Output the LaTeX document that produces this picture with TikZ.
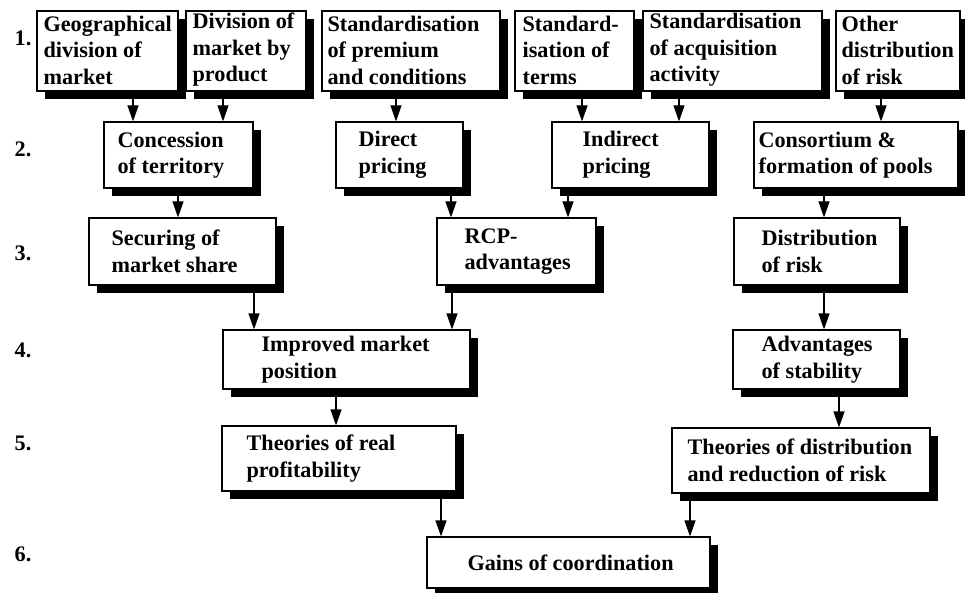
\documentclass[tikz,border=0pt]{standalone}
\usepackage{fontspec}
\setmainfont{Liberation Serif}
\usetikzlibrary{shadows,arrows.meta}
\begin{document}
\begin{tikzpicture}[x=1pt,y=-1pt]
\tikzset{
 box/.style={draw, fill=white, line width=1.2pt, inner sep=0pt,
   drop shadow={shadow xshift=8pt, shadow yshift=-8pt, fill=black, opacity=1}},
 txt/.style={align=left, inner sep=0pt, anchor=west, font=\fontsize{22.2}{26.5}\selectfont\bfseries},
 lab/.style={inner sep=0pt, font=\fontsize{22.2}{26.5}\selectfont\bfseries},
 arr/.style={line width=1.2pt, -{Triangle[length=16pt,width=11pt]}},
}
\useasboundingbox (0,0) rectangle (965,593);
% row labels
\node[lab] (l1) at (23,38) {1.};
\node[lab] (l2) at (23,149) {2.};
\node[lab] (l3) at (23,253) {3.};
\node[lab] (l4) at (23,350) {4.};
\node[lab] (l5) at (23,443) {5.};
\node[lab] (l6) at (23,554) {6.};
% row 1
\node[box, minimum width=141pt, minimum height=80pt] (geo) at (107.5,51) {};
\node[txt] (geo-t) at ([xshift=7pt,yshift=1pt]geo.west) {Geographical\\division of\\market};
\node[box, minimum width=120pt, minimum height=80pt] (div) at (246,51) {};
\node[txt] (div-t) at ([xshift=7pt,yshift=1pt]div.west) {Division of\\market by\\product};
\node[box, minimum width=178pt, minimum height=80pt] (prem) at (411,51) {};
\node[txt] (prem-t) at ([xshift=6pt,yshift=1pt]prem.west) {Standardisation\\of premium\\and conditions};
\node[box, minimum width=119pt, minimum height=80pt] (terms) at (574.5,51) {};
\node[txt] (terms-t) at ([xshift=8pt,yshift=1pt]terms.west) {Standard-\\isation of\\terms};
\node[box, minimum width=179pt, minimum height=80pt] (acq) at (732.5,51) {};
\node[txt] (acq-t) at ([xshift=7pt,yshift=1pt]acq.west) {Standardisation\\of acquisition\\activity};
\node[box, minimum width=124pt, minimum height=80pt] (other) at (898,51) {};
\node[txt] (other-t) at ([xshift=6pt,yshift=1pt]other.west) {Other\\distribution\\of risk};
% row 2
\node[box, minimum width=149pt, minimum height=66pt] (conc) at (178.5,155) {};
\node[txt] (conc-t) at ([xshift=14pt]conc.west) {Concession\\of territory};
\node[box, minimum width=127pt, minimum height=66pt] (direct) at (399.5,155) {};
\node[txt] (direct-t) at ([xshift=23pt]direct.west) {Direct\\pricing};
\node[box, minimum width=157pt, minimum height=66pt] (indirect) at (630.5,155) {};
\node[txt] (indirect-t) at ([xshift=31pt]indirect.west) {Indirect\\pricing};
\node[box, minimum width=204pt, minimum height=66pt] (consort) at (856,155) {};
\node[txt] (consort-t) at ([xshift=5pt]consort.west) {Consortium \&\\formation of pools};
% row 3
\node[box, minimum width=187pt, minimum height=67pt] (secur) at (182.5,251.5) {};
\node[txt] (secur-t) at ([xshift=23pt]secur.west) {Securing of\\market share};
\node[box, minimum width=159pt, minimum height=67pt] (rcp) at (516.5,251.5) {};
\node[txt] (rcp-t) at ([xshift=28pt]rcp.west) {RCP-\\advantages};
\node[box, minimum width=166pt, minimum height=67pt] (distr) at (817,251.5) {};
\node[txt] (distr-t) at ([xshift=28pt]distr.west) {Distribution\\of risk};
% row 4
\node[box, minimum width=247pt, minimum height=59pt] (impr) at (346.5,359.5) {};
\node[txt] (impr-t) at ([xshift=39pt]impr.west) {Improved market\\position};
\node[box, minimum width=167pt, minimum height=59pt] (advant) at (816.5,359.5) {};
\node[txt] (advant-t) at ([xshift=29pt]advant.west) {Advantages\\of stability};
% row 5
\node[box, minimum width=234pt, minimum height=65pt] (treal) at (339,458.5) {};
\node[txt] (treal-t) at ([xshift=25pt]treal.west) {Theories of real\\profitability};
\node[box, minimum width=258pt, minimum height=65pt] (tdist) at (801,460.5) {};
\node[txt] (tdist-t) at ([xshift=16pt]tdist.west) {Theories of distribution\\and reduction of risk};
% row 6
\node[box, minimum width=283pt, minimum height=51pt] (gains) at (568.5,562.5) {};
\node[txt] (gains-t) at ([xshift=41pt]gains.west) {Gains of coordination};
% arrows
\draw[arr] (geo.south -| 133,0) -- (conc.north -| 133,0);
\draw[arr] (div.south -| 223,0) -- (conc.north -| 223,0);
\draw[arr] (prem.south -| 396,0) -- (direct.north -| 396,0);
\draw[arr] (terms.south -| 582,0) -- (indirect.north -| 582,0);
\draw[arr] (acq.south -| 679,0) -- (indirect.north -| 679,0);
\draw[arr] (other.south -| 881,0) -- (consort.north -| 881,0);
\draw[arr] (conc.south -| 178,0) -- (secur.north -| 178,0);
\draw[arr] (direct.south -| 451,0) -- (rcp.north -| 451,0);
\draw[arr] (indirect.south -| 568,0) -- (rcp.north -| 568,0);
\draw[arr] (consort.south -| 824,0) -- (distr.north -| 824,0);
\draw[arr] (secur.south -| 254,0) -- (impr.north -| 254,0);
\draw[arr] (rcp.south -| 452,0) -- (impr.north -| 452,0);
\draw[arr] (distr.south -| 824,0) -- (advant.north -| 824,0);
\draw[arr] (impr.south -| 336,0) -- (treal.north -| 336,0);
\draw[arr] (advant.south -| 839,0) -- (tdist.north -| 839,0);
\draw[arr] (treal.south -| 441,0) -- (gains.north -| 441,0);
\draw[arr] (tdist.south -| 690,0) -- (gains.north -| 690,0);
\end{tikzpicture}
\end{document}
